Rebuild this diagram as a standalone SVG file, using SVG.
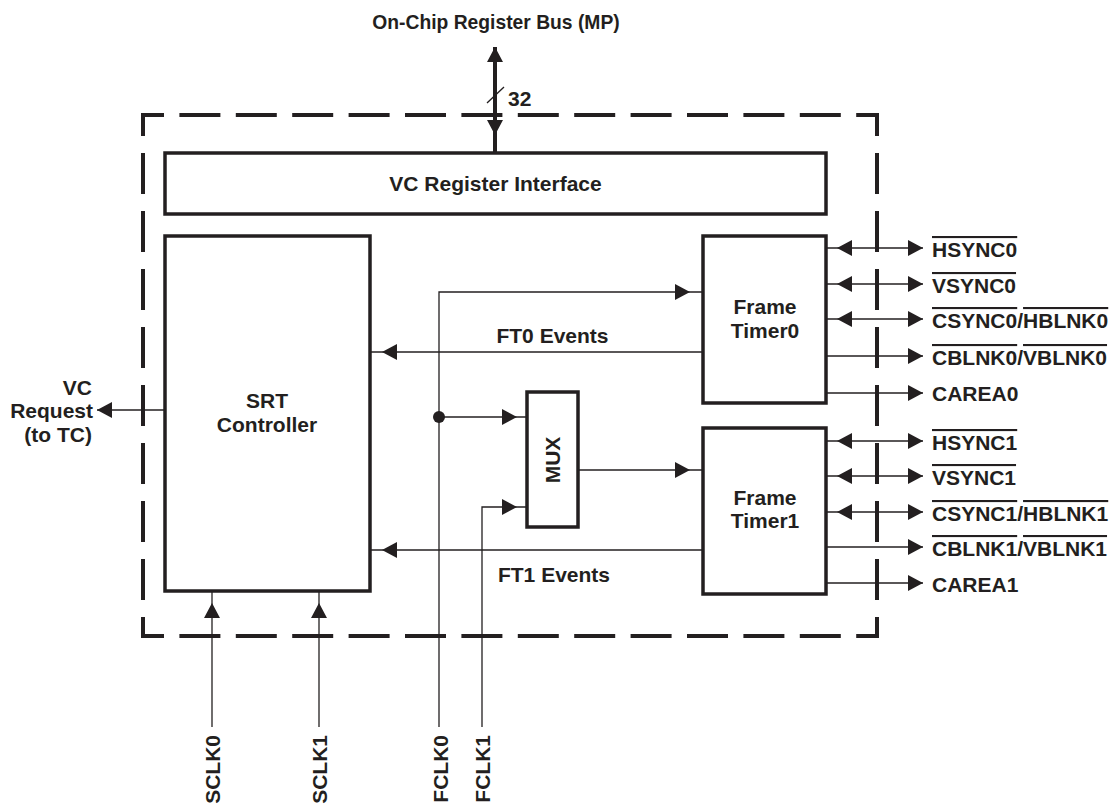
<svg xmlns="http://www.w3.org/2000/svg" xmlns:xlink="http://www.w3.org/1999/xlink" width="1113" height="805" viewBox="0 0 1113 805">
<style>
text{font-family:"Liberation Sans",Arial,sans-serif;font-weight:bold;font-size:21px;fill:#231f20}
.box{fill:#fff;stroke:#231f20;stroke-width:3.5}
.thin{fill:none;stroke:#231f20;stroke-width:1.3}
.dh{fill:none;stroke:#231f20;stroke-width:4;stroke-linecap:square;stroke-dasharray:37 19.4;stroke-dashoffset:18}
.dv{fill:none;stroke:#231f20;stroke-width:4;stroke-linecap:square;stroke-dasharray:37 21;stroke-dashoffset:18}
.ah{fill:#231f20}
.ol{text-decoration:overline}
.c{text-anchor:middle}
.e{text-anchor:end}
</style>
<defs>
<path id="ah" class="ah" d="M0,0 L-15,-8 L-15,8 Z"/>
</defs>
<rect width="1113" height="805" fill="#fff"/>
<g id="border">
<line class="dh" x1="143" y1="115" x2="877" y2="115"/>
<line class="dh" x1="143" y1="636" x2="877" y2="636"/>
<line class="dv" x1="143" y1="115" x2="143" y2="636"/>
<line class="dv" x1="877" y1="115" x2="877" y2="636"/>
</g>
<text class="c" x="496" y="29" style="font-size:19.3px">On-Chip Register Bus (MP)</text>
<g id="connectors">
<line x1="495" y1="47" x2="495" y2="153" stroke="#231f20" stroke-width="4"/>
<line class="thin" x1="487" y1="103" x2="504" y2="87"/>
<use href="#ah" transform="translate(495,47) rotate(-90)"/>
<use href="#ah" transform="translate(495,135) rotate(90)"/>
<line class="thin" x1="97" y1="410" x2="165" y2="410"/>
<use href="#ah" transform="translate(97,410) rotate(180)"/>
<line class="thin" x1="370" y1="352" x2="703" y2="352"/>
<use href="#ah" transform="translate(382,352) rotate(180)"/>
<line class="thin" x1="370" y1="550" x2="703" y2="550"/>
<use href="#ah" transform="translate(382,550) rotate(180)"/>
<polyline class="thin" points="439,727 439,292 703,292"/>
<use href="#ah" transform="translate(690,292)"/>
<line class="thin" x1="439" y1="417" x2="527" y2="417"/>
<circle cx="439" cy="417" r="6" fill="#231f20"/>
<use href="#ah" transform="translate(517,417)"/>
<polyline class="thin" points="482,727 482,507 527,507"/>
<use href="#ah" transform="translate(517,507)"/>
<line class="thin" x1="578" y1="470" x2="703" y2="470"/>
<use href="#ah" transform="translate(690,470)"/>
<line class="thin" x1="212" y1="591" x2="212" y2="727"/>
<use href="#ah" transform="translate(212,603) rotate(-90)"/>
<line class="thin" x1="319" y1="591" x2="319" y2="727"/>
<use href="#ah" transform="translate(319,603) rotate(-90)"/>
<line class="thin" x1="827" y1="248" x2="923" y2="248"/>
<use href="#ah" transform="translate(837,248) rotate(180)"/>
<use href="#ah" transform="translate(923,248)"/>
<line class="thin" x1="827" y1="284" x2="923" y2="284"/>
<use href="#ah" transform="translate(837,284) rotate(180)"/>
<use href="#ah" transform="translate(923,284)"/>
<line class="thin" x1="827" y1="319" x2="923" y2="319"/>
<use href="#ah" transform="translate(837,319) rotate(180)"/>
<use href="#ah" transform="translate(923,319)"/>
<line class="thin" x1="827" y1="356" x2="923" y2="356"/>
<use href="#ah" transform="translate(923,356)"/>
<line class="thin" x1="827" y1="393" x2="923" y2="393"/>
<use href="#ah" transform="translate(923,393)"/>
<line class="thin" x1="827" y1="441" x2="923" y2="441"/>
<use href="#ah" transform="translate(837,441) rotate(180)"/>
<use href="#ah" transform="translate(923,441)"/>
<line class="thin" x1="827" y1="476" x2="923" y2="476"/>
<use href="#ah" transform="translate(837,476) rotate(180)"/>
<use href="#ah" transform="translate(923,476)"/>
<line class="thin" x1="827" y1="512" x2="923" y2="512"/>
<use href="#ah" transform="translate(837,512) rotate(180)"/>
<use href="#ah" transform="translate(923,512)"/>
<line class="thin" x1="827" y1="547" x2="923" y2="547"/>
<use href="#ah" transform="translate(923,547)"/>
<line class="thin" x1="827" y1="583" x2="923" y2="583"/>
<use href="#ah" transform="translate(923,583)"/>
</g>
<g id="vcreg">
<rect class="box" x="165" y="153" width="661" height="61"/>
<text class="c" x="495.5" y="191">VC Register Interface</text>
</g>
<g id="srt">
<rect class="box" x="165" y="236" width="205" height="355"/>
<text class="c" x="267" y="408">SRT</text>
<text class="c" x="267" y="432">Controller</text>
</g>
<g id="ft0">
<rect class="box" x="703" y="236" width="123" height="167"/>
<text class="c" x="765" y="314">Frame</text>
<text class="c" x="765" y="338">Timer0</text>
</g>
<g id="ft1">
<rect class="box" x="703" y="428" width="123" height="166"/>
<text class="c" x="765" y="505">Frame</text>
<text class="c" x="765" y="528">Timer1</text>
</g>
<g id="mux">
<rect class="box" x="527" y="392" width="51" height="135"/>
<text class="c" transform="translate(560,460) rotate(-90)">MUX</text>
</g>
<g id="labels">
<text x="508" y="106">32</text>
<text class="c" x="552.5" y="343">FT0 Events</text>
<text class="c" x="554" y="582">FT1 Events</text>
<text class="e" x="92" y="395">VC</text>
<text class="e" x="93" y="418">Request</text>
<text class="e" x="92" y="442">(to TC)</text>
<text class="e" transform="translate(220,735) rotate(-90)">SCLK0</text>
<text class="e" transform="translate(327,735) rotate(-90)">SCLK1</text>
<text class="e" transform="translate(448,735) rotate(-90)">FCLK0</text>
<text class="e" transform="translate(490,735) rotate(-90)">FCLK1</text>
<text x="932" y="257"><tspan class="ol">HSYNC0</tspan></text>
<text x="932" y="293"><tspan class="ol">VSYNC0</tspan></text>
<text x="932" y="328"><tspan class="ol">CSYNC0</tspan>/<tspan class="ol">HBLNK0</tspan></text>
<text x="932" y="365"><tspan class="ol">CBLNK0</tspan>/<tspan class="ol">VBLNK0</tspan></text>
<text x="932" y="401">CAREA0</text>
<text x="932" y="450"><tspan class="ol">HSYNC1</tspan></text>
<text x="932" y="485"><tspan class="ol">VSYNC1</tspan></text>
<text x="932" y="521"><tspan class="ol">CSYNC1</tspan>/<tspan class="ol">HBLNK1</tspan></text>
<text x="932" y="556"><tspan class="ol">CBLNK1</tspan>/<tspan class="ol">VBLNK1</tspan></text>
<text x="932" y="592">CAREA1</text>
</g>
</svg>
